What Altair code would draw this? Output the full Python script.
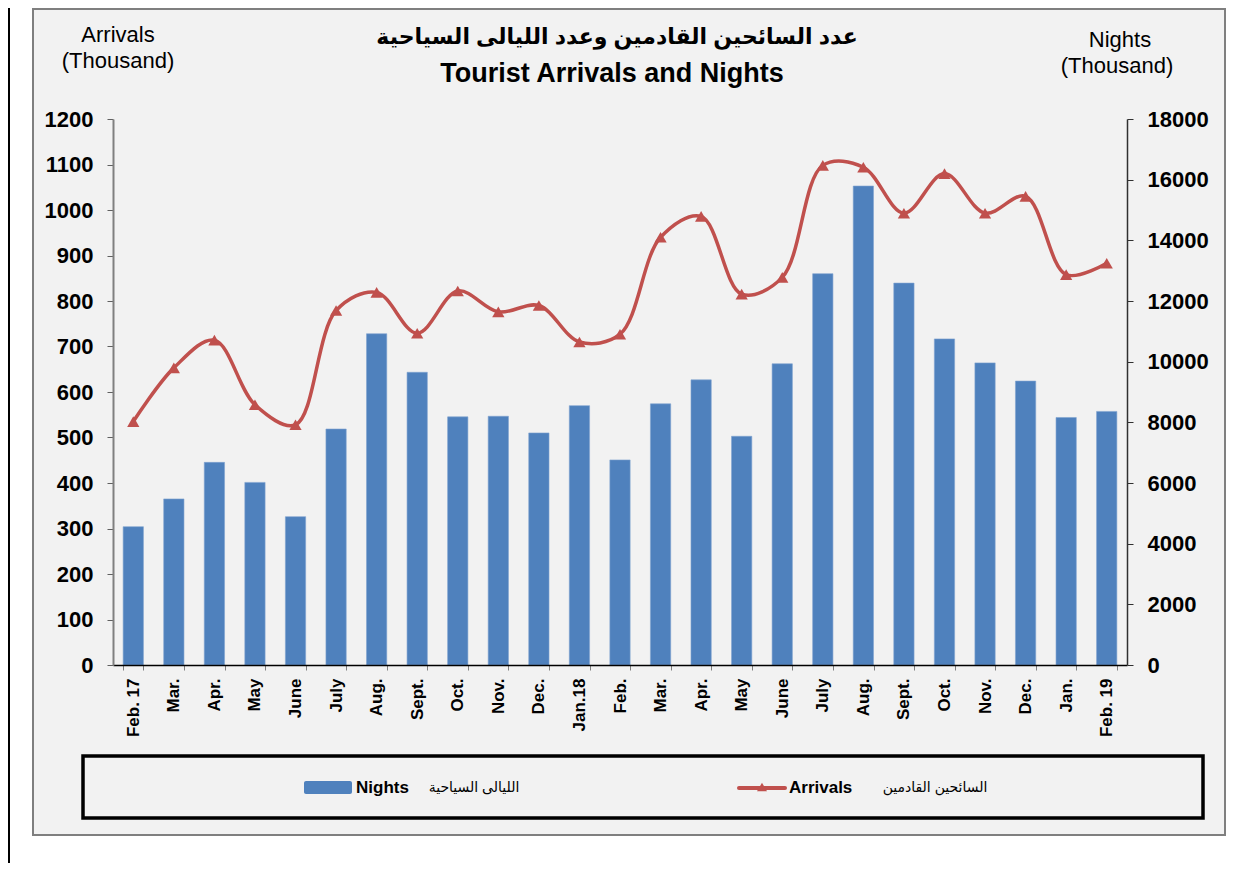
import json
import altair as alt
import pandas as pd

# ---------------- data ----------------
months = ["Feb. 17", "Mar.", "Apr.", "May", "June", "July", "Aug.", "Sept.", "Oct.", "Nov.",
          "Dec.", "Jan.18", "Feb.", "Mar.", "Apr.", "May", "June", "July", "Aug.", "Sept.",
          "Oct.", "Nov.", "Dec.", "Jan.", "Feb. 19"]
nights = [4560, 5475, 6680, 6020, 4890, 7780, 10920, 9650, 8180, 8200, 7650, 8550, 6760,
          8610, 9400, 7540, 9930, 12900, 15790, 12590, 10750, 9960, 9360, 8160, 8360]
arrivals = [535, 653, 714, 572, 528, 779, 819, 729, 822, 776, 790, 710, 727,
            940, 986, 815, 852, 1098, 1094, 993, 1080, 993, 1030, 858, 883]
left_ticks = list(range(0, 1201, 100))
right_ticks = list(range(0, 18001, 2000))

title_ar = "عدد السائحين القادمين وعدد الليالى السياحية"
title_en = "Tourist Arrivals and Nights"
legend_nights_ar = "الليالى السياحية"
legend_arrivals_ar = "السائحين القادمين"

df = pd.DataFrame({"idx": list(range(len(months))), "month": months,
                   "nights": nights, "arrivals": arrivals})
one = pd.DataFrame({"a": [0]})

FONT = "Liberation Sans, Arial, DejaVu Sans"
BLUE = "#4F81BD"
RED = "#C0504D"

label_expr = json.dumps(months) + "[datum.value]"

x_axis = alt.Axis(title=None, labelExpr=label_expr, labelAngle=-90, labelFont=FONT,
                  labelFontSize=17, labelFontWeight="bold", labelColor="black",
                  tickBand="extent", tickSize=5, tickColor="#808080",
                  domainColor="black", domainWidth=1.5, labelPadding=8, zindex=1)
x_enc = alt.X("idx:O", axis=x_axis,
              scale=alt.Scale(paddingInner=0.5, paddingOuter=0.25))

bars = alt.Chart(df).mark_bar(color=BLUE, stroke="#7FA3D0", strokeWidth=0.6).encode(
    x=x_enc,
    y=alt.Y("nights:Q", scale=alt.Scale(domain=[0, 18000], nice=False),
            axis=alt.Axis(orient="right", values=right_ticks, format="d", title=None,
                          grid=False, labelFont=FONT, labelFontSize=22,
                          labelFontWeight="bold", labelColor="black",
                          domainColor="#303030", domainWidth=1.5,
                          tickColor="#303030", tickSize=6, labelPadding=14, zindex=1)),
)

line = alt.Chart(df).mark_line(
    interpolate="catmull-rom", color=RED, strokeWidth=3.5,
    point=alt.OverlayMarkDef(shape="triangle-up", size=150, filled=True, color=RED, opacity=1),
).encode(
    x=x_enc,
    y=alt.Y("arrivals:Q", scale=alt.Scale(domain=[0, 1200], nice=False),
            axis=alt.Axis(orient="left", values=left_ticks, format="d", title=None,
                          grid=False, labelFont=FONT, labelFontSize=22,
                          labelFontWeight="bold", labelColor="black",
                          domainColor="#808080", domainWidth=2,
                          tickColor="#606060", tickSize=6, labelPadding=14, zindex=1)),
)


def txt(s, x, y, size, bold=False, align="center", baseline="alphabetic"):
    return alt.Chart(one).mark_text(
        text=s, font=FONT, fontSize=size, fontWeight="bold" if bold else "normal",
        align=align, baseline=baseline, color="black"
    ).encode(x=alt.value(x), y=alt.value(y))


frame = alt.Chart(one).mark_rect(fill="#F2F2F2", stroke="#7F7F7F", strokeWidth=2).encode(
    x=alt.value(-80), x2=alt.value(1112), y=alt.value(-110), y2=alt.value(716))
vline = alt.Chart(one).mark_rule(color="black", strokeWidth=2).encode(
    x=alt.value(-104), y=alt.value(-111), y2=alt.value(744))
legend_box = alt.Chart(one).mark_rect(fill="#F2F2F2", stroke="black", strokeWidth=3.5).encode(
    x=alt.value(-30), x2=alt.value(1090), y=alt.value(637), y2=alt.value(699))
swatch = alt.Chart(one).mark_rect(fill=BLUE, cornerRadius=2).encode(
    x=alt.value(191), x2=alt.value(239), y=alt.value(662), y2=alt.value(675))
leg_line = alt.Chart(one).mark_rule(color=RED, strokeWidth=4, strokeCap="round").encode(
    x=alt.value(626), x2=alt.value(672), y=alt.value(669))
leg_tri = alt.Chart(one).mark_point(shape="triangle-up", size=100, filled=True,
                                    color=RED, opacity=1).encode(
    x=alt.value(649), y=alt.value(668))

layers = [
    frame, vline, legend_box, bars, line,
    swatch, leg_line, leg_tri,
    txt("Nights", 243, 669, 17, bold=True, align="left", baseline="middle"),
    txt(legend_nights_ar, 361, 669, 14, baseline="middle"),
    txt("Arrivals", 676, 669, 17, bold=True, align="left", baseline="middle"),
    txt(legend_arrivals_ar, 822, 669, 14, baseline="middle"),
    txt(title_ar, 504, -75, 22, bold=True),
    txt(title_en, 499, -37, 27, bold=True),
    txt("Arrivals", 5, -77, 22),
    txt("(Thousand)", 5, -51, 22),
    txt("Nights", 1007, -72, 22),
    txt("(Thousand)", 1004, -46, 22),
]

chart = alt.layer(*layers).resolve_scale(y="independent").properties(
    width=1014, height=546,
    autosize=alt.AutoSizeParams(type="none"),
    padding={"left": 105, "top": 111, "right": 120, "bottom": 198},
    background="white",
).configure_view(stroke=None)

chart.save("out.html", embed_options={"renderer": "svg", "actions": False})
